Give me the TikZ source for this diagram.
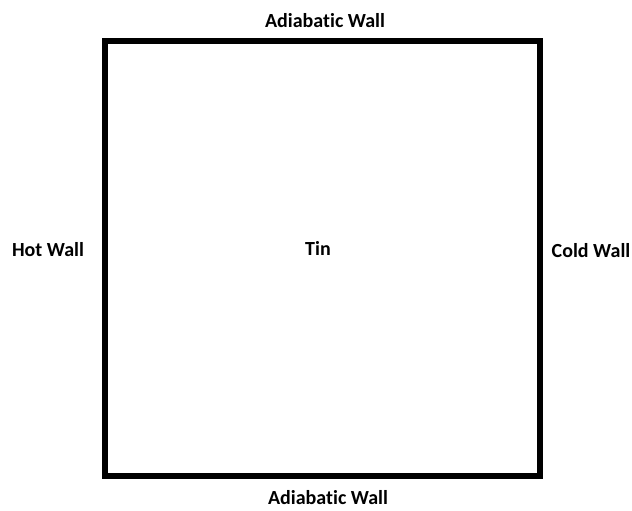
\documentclass[tikz,border=0pt]{standalone}
\usepackage{fontspec}
\setmainfont[Ligatures=NoCommon]{Carlito}
\tikzset{
  walllabel/.style={font=\bfseries\fontsize{20}{24}\selectfont, inner sep=0pt},
  wall/.style={line width=6pt}
}
\begin{document}
\begin{tikzpicture}[x=1pt, y=-1pt]
    \useasboundingbox (0,0) rectangle (632,511);
    % Ячейка
    \draw[wall] (105,41) rectangle (540,476);
    % Подписи стенок
    \node[walllabel] (top) at (325,21) {Adiabatic Wall};
    \node[walllabel] (bottom) at (328,498) {Adiabatic Wall};
    \node[walllabel] (hot) at (48,250) {Hot Wall};
    \node[walllabel] (cold) at (591,251) {Cold Wall};
    \node[walllabel] (tin) at (318,248) {Tin};
\end{tikzpicture}
\end{document}
